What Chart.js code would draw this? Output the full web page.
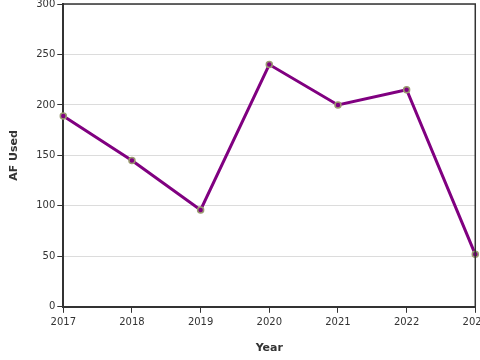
<!DOCTYPE html>
<html>
<head>
<meta charset="utf-8">
<script src="https://cdn.jsdelivr.net/npm/chart.js@4/dist/chart.umd.min.js"></script>
<style>
  html, body { margin: 0; padding: 0; background: #fff; }
  #wrap { width: 480px; height: 360px; overflow: hidden; position: relative; }
  #wrap canvas { position: absolute; left: 0; top: -4px; }
</style>
</head>
<body>
<div id="wrap"><canvas id="chart" width="492" height="364"></canvas></div>
<script>
// données
const years = ["2017", "2018", "2019", "2020", "2021", "2022", "2023"];
const afUsed = [189, 145, 96, 240, 200, 215, 52];
const yTicks = [0, 50, 100, 150, 200, 250, 300];

const frame = {
  id: "frame",
  afterDraw(chart) {
    const { ctx, chartArea: a } = chart;
    ctx.save();
    ctx.strokeStyle = "#333";
    ctx.lineWidth = 1.5;
    ctx.beginPath();
    ctx.moveTo(a.left, a.top);
    ctx.lineTo(a.right, a.top);
    ctx.lineTo(a.right, a.bottom);
    ctx.stroke();
    ctx.restore();
  },
};

Chart.defaults.font.family = "'DejaVu Sans', sans-serif";
Chart.defaults.color = "#333";

new Chart(document.getElementById("chart"), {
  type: "line",
  data: {
    labels: years,
    datasets: [
      {
        label: "AF Used",
        data: afUsed,
        borderColor: "#800080",
        borderWidth: 3,
        pointBackgroundColor: "#800080",
        pointBorderColor: "#9a9a70",
        pointBorderWidth: 1.5,
        pointRadius: 3,
        tension: 0,
      },
    ],
  },
  options: {
    responsive: false,
    animation: false,
    layout: { padding: { top: 0, left: 4, right: 0, bottom: 1 } },
    plugins: { legend: { display: false }, tooltip: { enabled: false } },
    scales: {
      x: {
        offset: false,
        grid: { drawOnChartArea: false, tickColor: "#333", tickLength: 6 },
        border: { color: "#333", width: 2 },
        ticks: { font: { size: 10 }, maxRotation: 0, padding: 4 },
        title: { display: true, text: "Year", font: { size: 11, weight: "bold" }, padding: { top: 9 } },
      },
      y: {
        min: 0,
        max: 300,
        afterBuildTicks: (axis) => { axis.ticks = yTicks.map((v) => ({ value: v })); },
        grid: { color: "#dcdcdc", tickColor: "#333", tickLength: 6 },
        border: { color: "#333", width: 2 },
        ticks: { font: { size: 10 }, padding: 2 },
        title: { display: true, text: "AF Used", font: { size: 11, weight: "bold" }, padding: { bottom: 13 } },
      },
    },
  },
  plugins: [frame],
});
</script>
</body>
</html>
